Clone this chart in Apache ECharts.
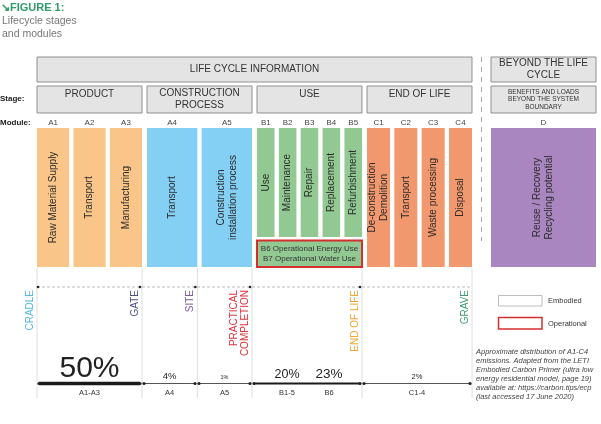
<!DOCTYPE html>
<html><head><meta charset="utf-8">
<script src="https://cdn.jsdelivr.net/npm/echarts@6/dist/echarts.min.js"></script>
<style>html,body{margin:0;padding:0;background:#fff}#c{width:601px;height:424px}</style>
</head><body><div id="c"></div>
<script>
// ---------- data ----------
const titleText = '↘FIGURE 1:';
const subtitleText = 'Lifecycle stages\nand modules';
const headerLabels = ['LIFE CYCLE INFORMATION', 'BEYOND THE LIFE\nCYCLE'];
const stageLabels = ['PRODUCT', 'CONSTRUCTION\nPROCESS', 'USE', 'END OF LIFE', 'BENEFITS AND LOADS\nBEYOND THE SYSTEM\nBOUNDARY'];
const moduleCodes = [['A1','A2','A3'], ['A4','A5'], ['B1','B2','B3','B4','B5'], ['C1','C2','C3','C4'], ['D']];
const moduleNames = [
  ['Raw Material Supply','Transport','Manufacturing'],
  ['Transport','Construction\ninstallation process'],
  ['Use','Maintenance','Repair','Replacement','Refurbishment'],
  ['De-construction\nDemolition','Transport','Waste processing','Disposal'],
  ['Reuse / Recovery\nRecycling potential']
];
const operationalLabel = 'B6 Operational Energy Use\nB7 Operational Water Use';
const milestoneLabels = ['CRADLE','GATE','SITE','PRACTICAL\nCOMPLETION','END OF LIFE','GRAVE'];
const milestoneAfter = [null,'A3','A4','A5','B5','C4'];
const shareLabels = ['A1-A3','A4','A5','B1-5','B6','C1-4'];
const shareValues = [50,4,1,20,23,2];
const shareStageSpans = [[0,1],[1,1.5],[1.5,2],[2,2.5],[2.5,3],[3,4]];
const legendLabels = ['Embodied','Operational'];
const noteText = 'Approximate distribution of A1-C4\nemissions. Adapted from the LETI\nEmbodied Carbon Primer (ultra low\nenergy residential model, page 19)\navailable at: https://carbon.tips/ecp\n(last accessed 17 June 2020)';

// ---------- styles / layout ----------
const FONT = "'Liberation Sans', Arial, sans-serif";
const stageColors = ['#f9c588','#84cff4','#92c993','#f2986f','#a986bf'];
const milestoneColors = ['#55b9e2','#4c4f8d','#7d58a5','#e0333c','#f0a436','#3d9c6e'];
const shareFont = [30,9.5,5.5,12.5,13.5,7.5];
const shareLineW = [3.5,1,1,2,2,1];
const shareLabelShift = [0,0,0,4,-7,0];
const shareJoinNext = [false,false,false,true,false,false];
const X0 = 37, PITCH = 110, SW = 105, MG = 4.3;
const stageX = i => i < 4 ? X0 + PITCH * i : 491;
const bnd = u => X0 + PITCH * u - (u > 0 ? 5 : 0);
const BOX_FILL = '#e4e4e4', BOX_STROKE = '#8f8f8f', RED = '#d32f2f';

const shapes = [];
const rect = (x0,y0,x1,y1,fill,stroke,lw) => shapes.push({k:'rect',x:x0,y:y0,x1,y1,fill,stroke,lw});
const line = (x0,y0,x1,y1,stroke,lw,dash) => shapes.push({k:'line',x:x0,y:y0,x1,y1,stroke,lw,dash});
const dot = (x,y,r,fill) => shapes.push({k:'circle',x,y,r,fill});
const text = (x,y,t,o) => shapes.push(Object.assign({k:'text',x,y,t,size:10,color:'#333',align:'center',va:'middle'},o||{}));

// headers
rect(X0,57,bnd(4),82,BOX_FILL,BOX_STROKE,1);
text((X0+bnd(4))/2,69.5,headerLabels[0]);
rect(stageX(4),57,stageX(4)+SW,82,BOX_FILL,BOX_STROKE,1);
text(stageX(4)+SW/2,69.5,headerLabels[1],{lh:12});
text(0,99,'Stage:',{size:8,bold:true,align:'left',color:'#222'});
text(0,122.5,'Module:',{size:8,bold:true,align:'left',color:'#222'});

// stages & modules
const modRight = {}, modLeft = {};
stageLabels.forEach((lab,s) => {
  const sx = stageX(s);
  rect(sx,86,sx+SW,113,BOX_FILL,BOX_STROKE,1);
  if (s === 4) text(sx+SW/2,99.5,lab,{size:6.5,lh:7.5});
  else text(sx+SW/2, lab.indexOf('\n')>=0 ? 99.5 : 94.5, lab,{lh:12});
  const codes = moduleCodes[s], n = codes.length;
  const w = (SW - (n-1)*MG)/n;
  codes.forEach((c,j) => {
    const x0 = sx + j*(w+MG), x1 = x0 + w;
    modLeft[c] = x0; modRight[c] = x1;
    const y1 = s === 2 ? 237 : 267;
    text((x0+x1)/2,122.5,c,{size:8,color:'#444'});
    rect(x0,128,x1,y1,stageColors[s],null,0);
    text((x0+x1)/2,(128+y1)/2,moduleNames[s][j],{rot:Math.PI/2,lh:12,color:'#2b2b2b'});
  });
});
// operational box
rect(modLeft['B1'],240.5,modRight['B5'],267,stageColors[2],RED,2);
text((modLeft['B1']+modRight['B5'])/2,253.5,operationalLabel,{size:8,lh:10,color:'#333'});
// separator
line((bnd(4)+stageX(4))/2,57,(bnd(4)+stageX(4))/2,241,'#aaa',1,[5,5]);

// milestones
const msX = milestoneAfter.map(m => m === null ? modLeft['A1'] : modRight[m]);
msX.forEach(x => line(x,268,x,398,'#d6d6d6',0.8));
line(msX[0],287,msX[msX.length-1],287,'#aaa',0.8,[3,2]);
msX.forEach((x,i) => { if (i < msX.length-1) dot(i===0?x+1:x-2,287,1.3,'#222'); });
milestoneLabels.forEach((lab,i) => {
  text(msX[i]-1,290,lab,{rot:Math.PI/2,align:'right',va:'bottom',color:milestoneColors[i],lh:11.5});
});

// shares
shareValues.forEach((v,i) => {
  const [a,b] = shareStageSpans[i];
  const joinedPrev = i > 0 && shareJoinNext[i-1];
  const xs = joinedPrev ? X0 + PITCH*a : bnd(a) + 2;
  const xe = shareJoinNext[i] ? X0 + PITCH*b : bnd(b) - 2;
  line(xs,383.5,xe,383.5,shareLineW[i] > 1.5 ? '#1a1a1a' : '#555',shareLineW[i]);
  if (!joinedPrev) dot(xs,383.5,1.6,'#222');
  if (!shareJoinNext[i]) dot(xe,383.5,1.6,'#222');
  const cx = (xs+xe)/2 + shareLabelShift[i];
  text(cx,379.5-0.36*shareFont[i],v+'%',{size:shareFont[i],color:'#222'});
  text(cx,392.5,shareLabels[i],{size:7.5,color:'#333'});
});

// legend
rect(498.5,295.5,542,306,'#fff','#bdbdbd',1);
text(548,301,legendLabels[0],{size:7.5,align:'left'});
rect(498.5,317.5,542,329,'#fff',RED,1.5);
text(548,323.5,legendLabels[1],{size:7.5,align:'left'});
// note
text(476,347.5,noteText,{size:7.5,lh:9,italic:true,align:'left',va:'top',color:'#444'});

// ---------- chart ----------
const chart = echarts.init(document.getElementById('c'), null, {renderer:'canvas'});
chart.setOption({
  animation: false,
  backgroundColor: '#fff',
  title: [
    {text: titleText, left: 1, top: 2, padding: 0, textStyle: {color:'#2f9b6c', fontSize:11, fontWeight:'bold', fontFamily:FONT}},
    {text: subtitleText, left: 2, top: 15, padding: 0, textStyle: {color:'#777', fontSize:10.5, fontWeight:'normal', lineHeight:13, fontFamily:FONT}}
  ],
  grid: {left:0, right:0, top:0, bottom:0},
  xAxis: {type:'value', min:0, max:601, show:false},
  yAxis: {type:'value', min:0, max:424, inverse:true, show:false},
  series: [{
    type: 'custom', coordinateSystem: 'cartesian2d', clip: false, silent: true,
    encode: {x:0, y:1},
    data: shapes.map((s,i) => [s.x, s.y, i]),
    renderItem: (params, api) => {
      const s = shapes[api.value(2)];
      const p = api.coord([s.x, s.y]);
      if (s.k === 'rect') {
        const q = api.coord([s.x1, s.y1]);
        return {type:'rect', shape:{x:p[0], y:p[1], width:q[0]-p[0], height:q[1]-p[1]},
          style:{fill:s.fill, stroke:s.stroke||null, lineWidth:s.lw||0}};
      }
      if (s.k === 'line') {
        const q = api.coord([s.x1, s.y1]);
        return {type:'line', shape:{x1:p[0], y1:p[1], x2:q[0], y2:q[1]},
          style:{stroke:s.stroke, lineWidth:s.lw, lineDash:s.dash||null}};
      }
      if (s.k === 'circle') {
        return {type:'circle', shape:{cx:p[0], cy:p[1], r:s.r}, style:{fill:s.fill}};
      }
      return {type:'text', x:p[0], y:p[1], rotation:s.rot||0,
        style:{text:s.t, fill:s.color, fontSize:s.size, fontFamily:FONT,
          fontWeight:s.bold?'bold':'normal', fontStyle:s.italic?'italic':'normal',
          align:s.align, verticalAlign:s.va, lineHeight:s.lh||Math.round(s.size*1.2)}};
    }
  }]
});
</script></body></html>
